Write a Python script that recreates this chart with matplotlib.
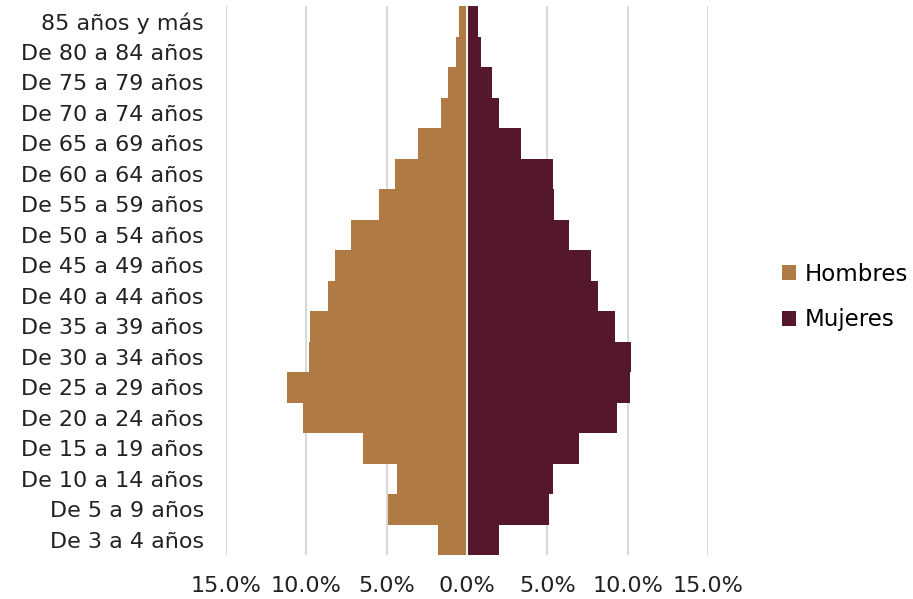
import matplotlib
matplotlib.use('Agg')
import matplotlib.pyplot as plt
import numpy as np

grupos = ['De 3 a 4 años', 'De 5 a 9 años', 'De 10 a 14 años', 'De 15 a 19 años',
          'De 20 a 24 años', 'De 25 a 29 años', 'De 30 a 34 años', 'De 35 a 39 años',
          'De 40 a 44 años', 'De 45 a 49 años', 'De 50 a 54 años', 'De 55 a 59 años',
          'De 60 a 64 años', 'De 65 a 69 años', 'De 70 a 74 años', 'De 75 a 79 años',
          'De 80 a 84 años', '85 años y más']
hombres = [1.8, 4.9, 4.35, 6.5, 10.2, 11.2, 9.85, 9.8, 8.65, 8.2, 7.2, 5.5,
           4.5, 3.05, 1.6, 1.2, 0.7, 0.5]
mujeres = [2.0, 5.1, 5.35, 7.0, 9.35, 10.15, 10.2, 9.2, 8.15, 7.7, 6.35, 5.4,
           5.35, 3.35, 2.0, 1.55, 0.9, 0.7]
ticks = [-15, -10, -5, 0, 5, 10, 15]

col_h = '#B07A45'
col_m = '#54172B'

plt.rcParams['font.family'] = ['DejaVu Sans']

fig = plt.figure(figsize=(9.13, 5.99), dpi=100)
ax = fig.add_axes([226 / 913, 1 - 555 / 599, (708 - 226) / 913, (555 - 6) / 599])

y = np.arange(len(grupos))
ax.barh(y, [-v for v in hombres], height=1.0, color=col_h, label='Hombres', zorder=2)
ax.barh(y, mujeres, height=1.0, color=col_m, label='Mujeres', zorder=2)

for t in ticks:
    if t != 0:
        ax.axvline(t, color='#D9D9D9', lw=1.5, zorder=1)
ax.axvline(0, color='#F2F2F2', lw=1.5, zorder=3)

ax.set_xlim(-15, 15)
ax.set_ylim(-0.5, len(grupos) - 0.5)
ax.set_yticks(y)
ax.set_yticklabels(grupos, fontsize=16, color='#222222')
ax.set_xticks(ticks)
ax.set_xticklabels([f'{abs(t):.1f}%' for t in ticks], fontsize=16, color='#222222')
ax.tick_params(length=0, pad=15, axis='x')
ax.tick_params(length=0, pad=16, axis='y')
for s in ax.spines.values():
    s.set_visible(False)

ax.legend(loc='center left', bbox_to_anchor=(1.135, 0.47), frameon=False, fontsize=16.5,
          handlelength=0.6, handleheight=0.6, handletextpad=0.4, labelspacing=1.0,
          borderaxespad=0)

fig.savefig('out.png', dpi=100)
